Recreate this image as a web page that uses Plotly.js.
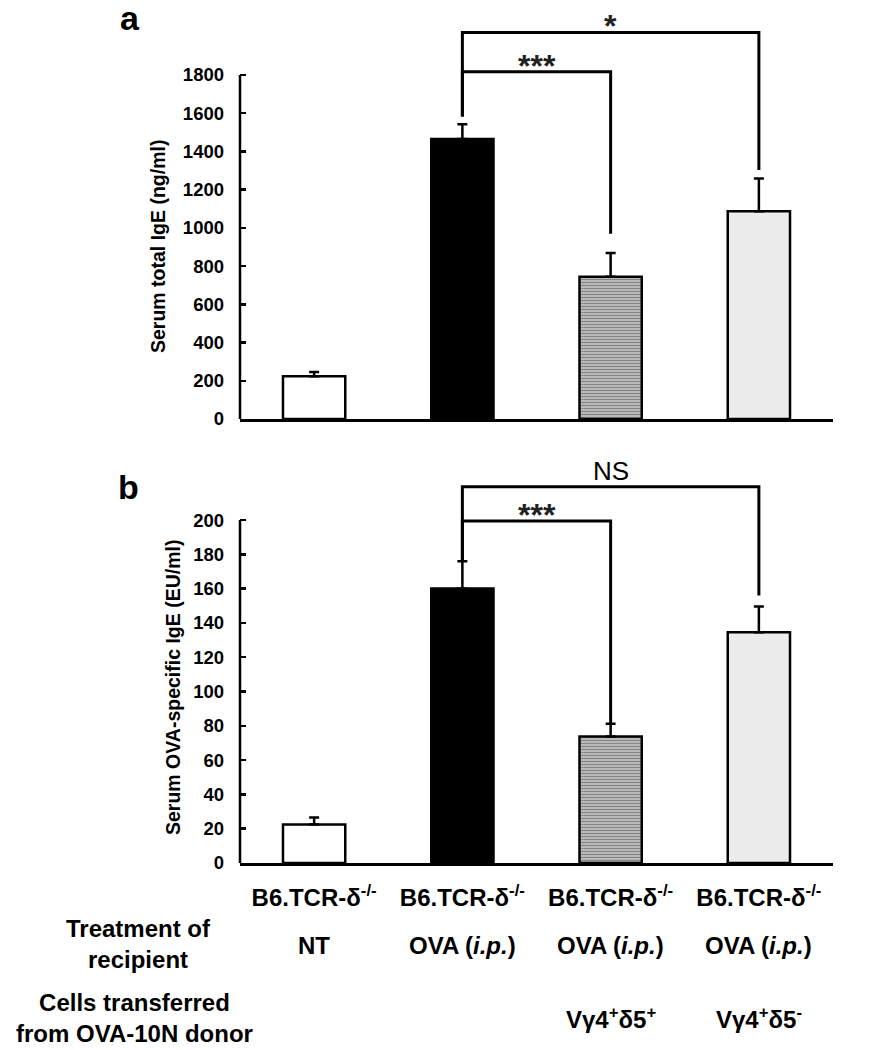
<!DOCTYPE html>
<html>
<head>
<meta charset="utf-8">
<script src="https://cdn.plot.ly/plotly-3.0.1.min.js"></script>
<style>html,body{margin:0;padding:0;background:#fff;}#chart{width:894px;height:1050px;}</style>
</head>
<body>
<div id="chart"></div>
<script>
// ---------- data ----------
const categories = ['B6.TCR-δ<sup>-/-</sup>', 'B6.TCR-δ<sup>-/-</sup>', 'B6.TCR-δ<sup>-/-</sup>', 'B6.TCR-δ<sup>-/-</sup>'];
const treatment = ['NT', 'OVA (<i>i.p.</i>)', 'OVA (<i>i.p.</i>)', 'OVA (<i>i.p.</i>)'];
const cellsTransferred = ['', '', 'Vγ4<sup>+</sup>δ5<sup>+</sup>', 'Vγ4<sup>+</sup>δ5<sup>-</sup>'];
const rowLabels = ['Treatment of<br>recipient', 'Cells transferred<br>from OVA-10N donor'];

const totalIgE = [223, 1465, 744, 1087];
const totalIgESem = [23, 77, 124, 171];
const ovaIgE = [22.4, 160, 73.7, 134.5];
const ovaIgESem = [4.2, 16, 7.5, 15];

const totalTicks = [0, 200, 400, 600, 800, 1000, 1200, 1400, 1600, 1800];
const ovaTicks = [0, 20, 40, 60, 80, 100, 120, 140, 160, 180, 200];

// significance brackets
const sigA_label = ['***', '*'];
const sigA_from = [1, 1];
const sigA_to = [2, 3];
const sigA_height = [1817, 2022];
const sigA_leftEnd = [1582, 1582];
const sigA_rightEnd = [969, 1303];

const sigB_label = ['***', 'NS'];
const sigB_from = [1, 1];
const sigB_to = [2, 3];
const sigB_height = [199.4, 219.4];
const sigB_leftEnd = [176, 176];
const sigB_rightEnd = [81, 156];

const barColors = ['#ffffff', '#000000', '#b9b9b9', '#ececec'];
const barPattern = ['', '', '-', ''];

// ---------- build ----------
const xs = categories.map((_, i) => i);
const FONT = 'Liberation Sans, Arial, sans-serif';

function barTrace(vals, sem, xa, ya) {
  return {
    type: 'bar', x: xs, y: vals, xaxis: xa, yaxis: ya, width: 0.42,
    marker: {
      color: barColors,
      line: {color: '#000', width: 2.5},
      pattern: {shape: barPattern, fillmode: 'overlay', fgcolor: '#d6d6d6', size: 3, solidity: 0.3}
    },
    error_y: {type: 'data', symmetric: false, array: sem, arrayminus: sem.map(() => 0),
              color: '#000', thickness: 2.5, width: 5},
    showlegend: false, hoverinfo: 'skip'
  };
}

function bracketTraces(from, to, h, le, re, xa, ya) {
  return from.map((f, k) => ({
    type: 'scatter', mode: 'lines', xaxis: xa, yaxis: ya,
    x: [f, f, to[k], to[k]], y: [le[k], h[k], h[k], re[k]],
    line: {color: '#000', width: 3}, showlegend: false, hoverinfo: 'skip'
  }));
}

function bracketLabels(from, to, h, labels, xa, ya) {
  return labels.map((t, k) => {
    const isNS = t === 'NS';
    return {
      x: (from[k] + to[k]) / 2, y: h[k], xref: xa, yref: ya, text: t, showarrow: false,
      xanchor: 'center', yanchor: 'bottom', yshift: isNS ? -1 : -14,
      font: {family: FONT, size: isNS ? 26 : 32, color: isNS ? '#000' : '#222', weight: isNS ? 'normal' : 'bold'}
    };
  });
}

const data = [
  barTrace(totalIgE, totalIgESem, 'x', 'y'),
  barTrace(ovaIgE, ovaIgESem, 'x2', 'y2'),
  ...bracketTraces(sigA_from, sigA_to, sigA_height, sigA_leftEnd, sigA_rightEnd, 'x', 'y'),
  ...bracketTraces(sigB_from, sigB_to, sigB_height, sigB_leftEnd, sigB_rightEnd, 'x2', 'y2')
];

const W = 894, H = 1050;
const xDom = [240 / W, 833 / W];
const px = p => 1 - p / H;

const yCommon = {
  ticks: 'inside', ticklen: 6, tickwidth: 2.5, tickcolor: '#000',
  showline: false, showgrid: false, zeroline: false, fixedrange: true,
  tickfont: {family: FONT, size: 18.5, color: '#000', weight: 'bold'},
  ticklabelstandoff: 15
};

function txt(x, y, text, size, extra) {
  return Object.assign({xref: 'paper', yref: 'paper', x: x / W, y: px(y), text: text, showarrow: false,
    xanchor: 'center', yanchor: 'middle', font: {family: FONT, size: size, color: '#000', weight: 'bold'}}, extra || {});
}

const layout = {
  width: W, height: H,
  margin: {l: 0, r: 0, t: 0, b: 0},
  paper_bgcolor: '#fff', plot_bgcolor: '#fff',
  font: {family: FONT, color: '#000', weight: 'bold'},
  bargap: 0,
  xaxis: {domain: xDom, range: [-0.5, 3.5], anchor: 'y', showline: true, linewidth: 2.5, linecolor: '#000',
          showticklabels: false, ticks: '', showgrid: false, zeroline: false, fixedrange: true},
  yaxis: Object.assign({domain: [px(419), px(8)], range: [0, 2150], anchor: 'x', tickvals: totalTicks}, yCommon),
  xaxis2: {domain: xDom, range: [-0.5, 3.5], anchor: 'y2', showline: true, linewidth: 2.5, linecolor: '#000',
           tickvals: xs, ticktext: categories, ticks: '', showgrid: false, zeroline: false, fixedrange: true,
           tickfont: {family: FONT, size: 24, color: '#000', weight: 'bold'}, ticklabelstandoff: 12},
  yaxis2: Object.assign({domain: [px(863), px(460)], range: [0, 235], anchor: 'x2', tickvals: ovaTicks}, yCommon),
  shapes: [
    {type: 'line', xref: 'paper', yref: 'y', x0: xDom[0], x1: xDom[0], y0: 0, y1: totalTicks[totalTicks.length - 1],
     line: {color: '#000', width: 2.5}},
    {type: 'line', xref: 'paper', yref: 'y2', x0: xDom[0], x1: xDom[0], y0: 0, y1: ovaTicks[ovaTicks.length - 1],
     line: {color: '#000', width: 2.5}}
  ],
  annotations: [
    txt(130, 18, 'a', 34),
    txt(128, 487, 'b', 34),
    txt(158, 247, 'Serum total IgE (ng/ml)', 19.5, {textangle: -90}),
    txt(173, 688, 'Serum OVA-specific IgE (EU/ml)', 19.5, {textangle: -90}),
    txt(138, 944, rowLabels[0], 24),
    txt(134, 1018, rowLabels[1], 24),
    ...treatment.map((t, i) => ({xref: 'x2', yref: 'paper', x: i, y: px(945), text: t, showarrow: false,
      xanchor: 'center', yanchor: 'middle', font: {family: FONT, size: 24, weight: 'bold'}})),
    ...cellsTransferred.map((t, i) => ({xref: 'x2', yref: 'paper', x: i, y: px(1018), text: t, showarrow: false,
      xanchor: 'center', yanchor: 'middle', font: {family: FONT, size: 24, weight: 'bold'}})),
    ...bracketLabels(sigA_from, sigA_to, sigA_height, sigA_label, 'x', 'y'),
    ...bracketLabels(sigB_from, sigB_to, sigB_height, sigB_label, 'x2', 'y2')
  ]
};

Plotly.newPlot('chart', data, layout, {staticPlot: true});
</script>
</body>
</html>
